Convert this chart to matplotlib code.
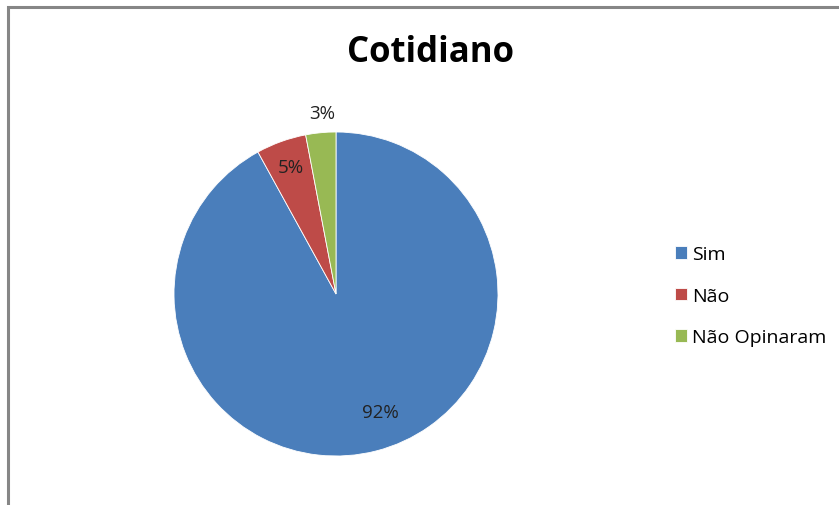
import numpy as np
import matplotlib.pyplot as plt
from matplotlib.patches import Rectangle

# data
labels = ['Sim', 'Não', 'Não Opinaram']
values = [92, 5, 3]
colors = ['#4A7EBB', '#BE4B48', '#98B954']

plt.rcParams['font.family'] = ['Open Sans', 'DejaVu Sans']

W, H = 839, 506
fig = plt.figure(figsize=(W / 100, H / 100), dpi=100)

# outer frame (chart border)
fig.patches.append(Rectangle((7.5 / W, -0.1), 2.0, (H - 7.5) / H + 0.1,
                             transform=fig.transFigure, fill=False,
                             edgecolor='#868686', linewidth=2.2))

# pie axes: center (336, 295), radius 162 px
cx, cy, r = 336, 295, 162
ax = fig.add_axes([(cx - r) / W, (H - cy - r) / H, 2 * r / W, 2 * r / H])
wedges, texts, autotexts = ax.pie(values, colors=colors, startangle=90,
                                  counterclock=False, autopct='%d%%',
                                  pctdistance=0.8,
                                  wedgeprops=dict(edgecolor='white', linewidth=0.6),
                                  textprops=dict(fontsize=13.5, color='#222222'))
# label positions tweaked to match (distance, angle offset)
dists = [0.78, 0.83, 1.12]
shifts = [6, 0, -1]
for w, t, d, s in zip(wedges, autotexts, dists, shifts):
    ang = np.deg2rad((w.theta1 + w.theta2) / 2 + s)
    t.set_position((d * np.cos(ang), d * np.sin(ang)))
ax.set_xlim(-1, 1)
ax.set_ylim(-1, 1)
ax.set_aspect('equal')

fig.text(430 / W, 1 - 53 / H, 'Cotidiano', fontsize=25, fontweight='bold',
         ha='center', va='center', color='black')

fig.legend(wedges, labels, loc='upper left', bbox_to_anchor=(657 / W, 1 - 229 / H),
           frameon=False, fontsize=14, handlelength=0.65, handleheight=0.65,
           handletextpad=0.25, labelspacing=1.2)

fig.savefig('out.png', dpi=100)
